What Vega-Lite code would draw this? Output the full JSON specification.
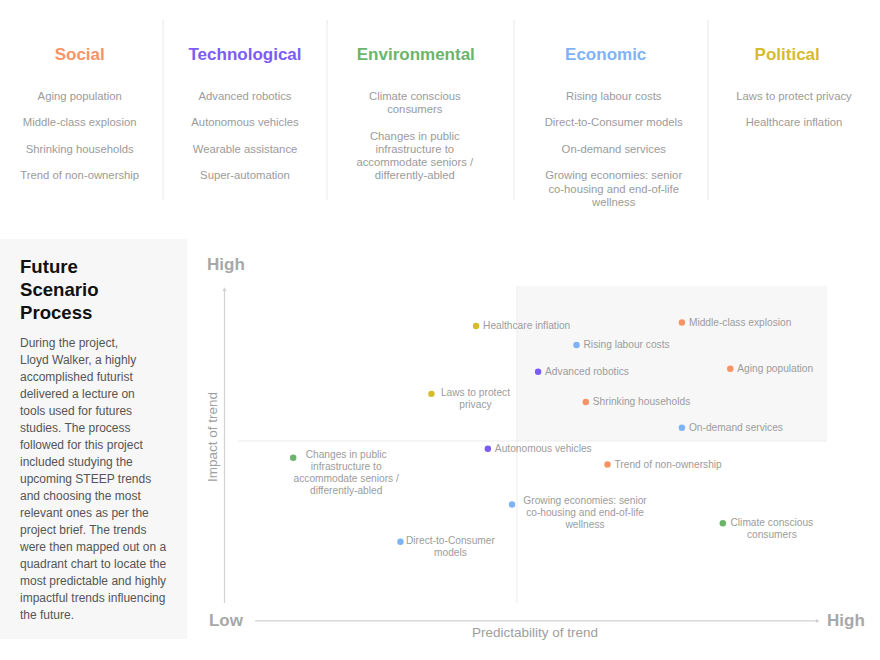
{
  "$schema": "https://vega.github.io/schema/vega-lite/v6.json",
  "padding": 0,
  "background": "white",
  "config": {
    "view": {"stroke": null},
    "axis": {"disable": true},
    "concat": {"spacing": 0},
    "font": "Liberation Sans"
  },
  "datasets": {
    "steep": [
      {"category": "Social", "item": "Aging population", "line": 0},
      {"category": "Social", "item": "Middle-class explosion", "line": 2},
      {"category": "Social", "item": "Shrinking households", "line": 4},
      {"category": "Social", "item": "Trend of non-ownership", "line": 6},
      {"category": "Technological", "item": "Advanced robotics", "line": 0},
      {"category": "Technological", "item": "Autonomous vehicles", "line": 2},
      {"category": "Technological", "item": "Wearable assistance", "line": 4},
      {"category": "Technological", "item": "Super-automation", "line": 6},
      {"category": "Environmental", "item": "Climate conscious\nconsumers", "line": 0},
      {"category": "Environmental", "item": "Changes in public\ninfrastructure to\naccommodate seniors /\ndifferently-abled", "line": 3},
      {"category": "Economic", "item": "Rising labour costs", "line": 0},
      {"category": "Economic", "item": "Direct-to-Consumer models", "line": 2},
      {"category": "Economic", "item": "On-demand services", "line": 4},
      {"category": "Economic", "item": "Growing economies: senior\nco-housing and end-of-life\nwellness", "line": 6},
      {"category": "Political", "item": "Laws to protect privacy", "line": 0},
      {"category": "Political", "item": "Healthcare inflation", "line": 2}
    ],
    "trends": [
      {"trend": "Healthcare inflation", "label": "Healthcare inflation", "category": "Political", "predictability": 4.34, "impact": 8.71},
      {"trend": "Middle-class explosion", "label": "Middle-class explosion", "category": "Social", "predictability": 7.66, "impact": 8.82},
      {"trend": "Rising labour costs", "label": "Rising labour costs", "category": "Economic", "predictability": 5.96, "impact": 8.10},
      {"trend": "Advanced robotics", "label": "Advanced robotics", "category": "Technological", "predictability": 5.34, "impact": 7.23},
      {"trend": "Aging population", "label": "Aging population", "category": "Social", "predictability": 8.44, "impact": 7.33},
      {"trend": "Laws to protect privacy", "label": "Laws to protect\nprivacy", "category": "Political", "predictability": 3.62, "impact": 6.52},
      {"trend": "Shrinking households", "label": "Shrinking households", "category": "Social", "predictability": 6.11, "impact": 6.26},
      {"trend": "On-demand services", "label": "On-demand services", "category": "Economic", "predictability": 7.66, "impact": 5.43},
      {"trend": "Autonomous vehicles", "label": "Autonomous vehicles", "category": "Technological", "predictability": 4.53, "impact": 4.75},
      {"trend": "Changes in public infrastructure to accommodate seniors / differently-abled", "label": "Changes in public\ninfrastructure to\naccommodate seniors /\ndifferently-abled", "category": "Environmental", "predictability": 1.39, "impact": 4.46},
      {"trend": "Trend of non-ownership", "label": "Trend of non-ownership", "category": "Social", "predictability": 6.46, "impact": 4.24},
      {"trend": "Growing economies: senior co-housing and end-of-life wellness", "label": "Growing economies: senior\nco-housing and end-of-life\nwellness", "category": "Economic", "predictability": 4.92, "impact": 2.95},
      {"trend": "Climate conscious consumers", "label": "Climate conscious\nconsumers", "category": "Environmental", "predictability": 8.32, "impact": 2.35},
      {"trend": "Direct-to-Consumer models", "label": "Direct-to-Consumer\nmodels", "category": "Economic", "predictability": 3.12, "impact": 1.75}
    ]
  },
  "vconcat": [
    {
      "bounds": "flush",
      "hconcat": [
        {
          "width": 163, "height": 239,
          "data": {"name": "steep"},
          "transform": [{"filter": "datum.category === 'Social'"}],
          "layer": [
            {"transform": [{"filter": "datum.line === 0"}],
             "mark": {"type": "text", "fontSize": 17, "fontWeight": "bold", "color": "#f79466", "baseline": "middle", "dx": -1.8},
             "encoding": {"x": {"field": "category", "type": "nominal", "axis": null}, "y": {"datum": -3.14, "type": "quantitative", "axis": null}, "text": {"field": "category"}}},
            {"mark": {"type": "text", "fontSize": 11.3, "color": "#9b9b9b", "baseline": "top", "dy": -5.5, "lineBreak": "\n", "lineHeight": 13.25, "dx": -1.8},
             "encoding": {"x": {"field": "category", "type": "nominal", "axis": null}, "y": {"field": "line", "type": "quantitative", "axis": null, "scale": {"domain": [-7.268, 10.77], "reverse": true, "nice": false, "zero": false}}, "text": {"field": "item"}}},
            {"transform": [{"filter": "datum.line === 0"}], "mark": {"type": "rule", "color": "#e8e8e8", "strokeWidth": 1},
             "encoding": {"x": {"value": "width"}, "y": {"datum": -5.76, "type": "quantitative", "axis": null}, "y2": {"datum": 7.83}}}
          ]
        },
        {
          "width": 164, "height": 239,
          "data": {"name": "steep"},
          "transform": [{"filter": "datum.category === 'Technological'"}],
          "layer": [
            {"transform": [{"filter": "datum.line === 0"}],
             "mark": {"type": "text", "fontSize": 17, "fontWeight": "bold", "color": "#7c5cf6", "baseline": "middle", "dx": 0},
             "encoding": {"x": {"field": "category", "type": "nominal", "axis": null}, "y": {"datum": -3.14, "type": "quantitative", "axis": null}, "text": {"field": "category"}}},
            {"mark": {"type": "text", "fontSize": 11.3, "color": "#9b9b9b", "baseline": "top", "dy": -5.5, "lineBreak": "\n", "lineHeight": 13.25, "dx": 0},
             "encoding": {"x": {"field": "category", "type": "nominal", "axis": null}, "y": {"field": "line", "type": "quantitative", "axis": null, "scale": {"domain": [-7.268, 10.77], "reverse": true, "nice": false, "zero": false}}, "text": {"field": "item"}}},
            {"transform": [{"filter": "datum.line === 0"}], "mark": {"type": "rule", "color": "#e8e8e8", "strokeWidth": 1},
             "encoding": {"x": {"value": "width"}, "y": {"datum": -5.76, "type": "quantitative", "axis": null}, "y2": {"datum": 7.83}}}
          ]
        },
        {
          "width": 187, "height": 239,
          "data": {"name": "steep"},
          "transform": [{"filter": "datum.category === 'Environmental'"}],
          "layer": [
            {"transform": [{"filter": "datum.line === 0"}],
             "mark": {"type": "text", "fontSize": 17, "fontWeight": "bold", "color": "#6bb56a", "baseline": "middle", "dx": -4.7},
             "encoding": {"x": {"field": "category", "type": "nominal", "axis": null}, "y": {"datum": -3.14, "type": "quantitative", "axis": null}, "text": {"field": "category"}}},
            {"mark": {"type": "text", "fontSize": 11.3, "color": "#9b9b9b", "baseline": "top", "dy": -5.5, "lineBreak": "\n", "lineHeight": 13.25, "dx": -5.7},
             "encoding": {"x": {"field": "category", "type": "nominal", "axis": null}, "y": {"field": "line", "type": "quantitative", "axis": null, "scale": {"domain": [-7.268, 10.77], "reverse": true, "nice": false, "zero": false}}, "text": {"field": "item"}}},
            {"transform": [{"filter": "datum.line === 0"}], "mark": {"type": "rule", "color": "#e8e8e8", "strokeWidth": 1},
             "encoding": {"x": {"value": "width"}, "y": {"datum": -5.76, "type": "quantitative", "axis": null}, "y2": {"datum": 7.83}}}
          ]
        },
        {
          "width": 194, "height": 239,
          "data": {"name": "steep"},
          "transform": [{"filter": "datum.category === 'Economic'"}],
          "layer": [
            {"transform": [{"filter": "datum.line === 0"}],
             "mark": {"type": "text", "fontSize": 17, "fontWeight": "bold", "color": "#7fb2f7", "baseline": "middle", "dx": -5.3},
             "encoding": {"x": {"field": "category", "type": "nominal", "axis": null}, "y": {"datum": -3.14, "type": "quantitative", "axis": null}, "text": {"field": "category"}}},
            {"mark": {"type": "text", "fontSize": 11.3, "color": "#9b9b9b", "baseline": "top", "dy": -5.5, "lineBreak": "\n", "lineHeight": 13.25, "dx": 2.7},
             "encoding": {"x": {"field": "category", "type": "nominal", "axis": null}, "y": {"field": "line", "type": "quantitative", "axis": null, "scale": {"domain": [-7.268, 10.77], "reverse": true, "nice": false, "zero": false}}, "text": {"field": "item"}}},
            {"transform": [{"filter": "datum.line === 0"}], "mark": {"type": "rule", "color": "#e8e8e8", "strokeWidth": 1},
             "encoding": {"x": {"value": "width"}, "y": {"datum": -5.76, "type": "quantitative", "axis": null}, "y2": {"datum": 7.83}}}
          ]
        },
        {
          "width": 172, "height": 239,
          "data": {"name": "steep"},
          "transform": [{"filter": "datum.category === 'Political'"}],
          "layer": [
            {"transform": [{"filter": "datum.line === 0"}],
             "mark": {"type": "text", "fontSize": 17, "fontWeight": "bold", "color": "#d6bb2e", "baseline": "middle", "dx": -6.8},
             "encoding": {"x": {"field": "category", "type": "nominal", "axis": null}, "y": {"datum": -3.14, "type": "quantitative", "axis": null}, "text": {"field": "category"}}},
            {"mark": {"type": "text", "fontSize": 11.3, "color": "#9b9b9b", "baseline": "top", "dy": -5.5, "lineBreak": "\n", "lineHeight": 13.25, "dx": 0},
             "encoding": {"x": {"field": "category", "type": "nominal", "axis": null}, "y": {"field": "line", "type": "quantitative", "axis": null, "scale": {"domain": [-7.268, 10.77], "reverse": true, "nice": false, "zero": false}}, "text": {"field": "item"}}}
          ]
        }
      ]
    },
    {
      "bounds": "flush",
      "hconcat": [
        {
          "width": 187, "height": 400,
          "view": {"fill": "#f7f7f7", "stroke": null},
          "data": {"values": [
            {"block": "title", "text": "Future\nScenario\nProcess"},
            {"block": "body", "text": "During the project,\nLloyd Walker, a highly\naccomplished futurist\ndelivered a lecture on\ntools used for futures\nstudies. The process\nfollowed for this project\nincluded studying the\nupcoming STEEP trends\nand choosing the most\nrelevant ones as per the\nproject brief. The trends\nwere then mapped out on a\nquadrant chart to locate the\nmost predictable and highly\nimpactful trends influencing\nthe future."}
          ]},
          "layer": [
            {"transform": [{"filter": "datum.block === 'title'"}],
             "mark": {"type": "text", "fontSize": 18.6, "fontWeight": "bold", "color": "#111111", "align": "left", "baseline": "middle", "lineBreak": "\n", "lineHeight": 22.7},
             "encoding": {"x": {"value": 20}, "y": {"value": 28.3}, "text": {"field": "text"}}},
            {"transform": [{"filter": "datum.block === 'body'"}],
             "mark": {"type": "text", "fontSize": 12, "color": "#555555", "align": "left", "baseline": "middle", "lineBreak": "\n", "lineHeight": 17},
             "encoding": {"x": {"value": 20}, "y": {"value": 104.3}, "text": {"field": "text"}}}
          ]
        },
        {
          "width": 693, "height": 421,
          "layer": [
            {"data": {"values": [{}]}, "mark": {"type": "rect", "fill": "#f7f7f7"},
             "encoding": {
               "x": {"datum": 5, "type": "quantitative", "axis": null, "scale": {"domain": [-0.3226, 10.855], "nice": false, "zero": false}},
               "x2": {"datum": 10},
               "y": {"datum": 5, "type": "quantitative", "axis": null, "scale": {"domain": [-2.065, 11.516], "nice": false, "zero": false}},
               "y2": {"datum": 10}}},
            {"data": {"values": [{}]}, "mark": {"type": "rule", "color": "#ececec", "strokeWidth": 1},
             "encoding": {"x": {"datum": 0.5, "type": "quantitative", "axis": null}, "x2": {"datum": 10}, "y": {"datum": 5, "type": "quantitative", "axis": null}}},
            {"data": {"values": [{}]}, "mark": {"type": "rule", "color": "#ececec", "strokeWidth": 1},
             "encoding": {"x": {"datum": 5, "type": "quantitative", "axis": null}, "y": {"datum": -0.226, "type": "quantitative", "axis": null}, "y2": {"datum": 10}}},
            {"data": {"values": [{}]}, "mark": {"type": "rule", "color": "#d2d2d2", "strokeWidth": 1.2},
             "encoding": {"x": {"datum": 0.282, "type": "quantitative", "axis": null}, "y": {"datum": -0.226, "type": "quantitative", "axis": null}, "y2": {"datum": 9.9}}},
            {"data": {"values": [{}]}, "mark": {"type": "point", "shape": "triangle-up", "filled": true, "color": "#d2d2d2", "size": 18, "opacity": 1},
             "encoding": {"x": {"datum": 0.282, "type": "quantitative", "axis": null}, "y": {"datum": 9.9, "type": "quantitative", "axis": null}}},
            {"data": {"values": [{}]}, "mark": {"type": "rule", "color": "#d2d2d2", "strokeWidth": 1.2},
             "encoding": {"x": {"datum": 0.774, "type": "quantitative", "axis": null}, "x2": {"datum": 9.85}, "y": {"datum": -0.806, "type": "quantitative", "axis": null}}},
            {"data": {"values": [{}]}, "mark": {"type": "point", "shape": "triangle-right", "filled": true, "color": "#d2d2d2", "size": 18, "opacity": 1},
             "encoding": {"x": {"datum": 9.85, "type": "quantitative", "axis": null}, "y": {"datum": -0.806, "type": "quantitative", "axis": null}}},
            {"data": {"values": [{"t": "High", "px": 0.306, "py": 10.677}, {"t": "Low", "px": 0.306, "py": -0.806}, {"t": "High", "px": 10.306, "py": -0.806}]},
             "mark": {"type": "text", "fontSize": 17, "fontWeight": "bold", "color": "#a8a8a8", "align": "center", "baseline": "middle"},
             "encoding": {"x": {"field": "px", "type": "quantitative", "axis": null}, "y": {"field": "py", "type": "quantitative", "axis": null}, "text": {"field": "t"}}},
            {"data": {"values": [{}]}, "mark": {"type": "text", "fontSize": 13.5, "color": "#9e9e9e", "align": "center", "baseline": "middle", "text": "Predictability of trend"},
             "encoding": {"x": {"datum": 5.29, "type": "quantitative", "axis": null}, "y": {"datum": -1.194, "type": "quantitative", "axis": null}}},
            {"data": {"values": [{}]}, "mark": {"type": "text", "fontSize": 13.5, "color": "#9e9e9e", "align": "center", "baseline": "middle", "angle": 270, "text": "Impact of trend"},
             "encoding": {"x": {"datum": 0.097, "type": "quantitative", "axis": null}, "y": {"datum": 5.13, "type": "quantitative", "axis": null}}},
            {"data": {"name": "trends"},
             "mark": {"type": "circle", "size": 42, "opacity": 1},
             "encoding": {
               "x": {"field": "predictability", "type": "quantitative", "axis": null},
               "y": {"field": "impact", "type": "quantitative", "axis": null},
               "color": {"field": "category", "type": "nominal", "legend": null,
                 "scale": {"domain": ["Social", "Technological", "Environmental", "Economic", "Political"], "range": ["#f79466", "#7c5cf6", "#6bb56a", "#7fb2f7", "#d6bb2e"]}}}},
            {"data": {"name": "trends"},
             "transform": [{"filter": "indexof(datum.label, '\\n') < 0"}],
             "mark": {"type": "text", "fontSize": 10.2, "color": "#9c9c9c", "align": "left", "baseline": "middle", "dx": 7},
             "encoding": {"x": {"field": "predictability", "type": "quantitative", "axis": null}, "y": {"field": "impact", "type": "quantitative", "axis": null}, "text": {"field": "label"}}},
            {"data": {"name": "trends"},
             "transform": [{"filter": "datum.trend === 'Laws to protect privacy'"}],
             "mark": {"type": "text", "fontSize": 10.2, "color": "#9c9c9c", "align": "center", "baseline": "top", "lineBreak": "\n", "lineHeight": 12, "dx": 44, "dy": -5.4},
             "encoding": {"x": {"field": "predictability", "type": "quantitative", "axis": null}, "y": {"field": "impact", "type": "quantitative", "axis": null}, "text": {"field": "label"}}},
            {"data": {"name": "trends"},
             "transform": [{"filter": "datum.category === 'Environmental' && datum.predictability < 5"}],
             "mark": {"type": "text", "fontSize": 10.2, "color": "#9c9c9c", "align": "center", "baseline": "top", "lineBreak": "\n", "lineHeight": 12, "dx": 53, "dy": -7.4},
             "encoding": {"x": {"field": "predictability", "type": "quantitative", "axis": null}, "y": {"field": "impact", "type": "quantitative", "axis": null}, "text": {"field": "label"}}},
            {"data": {"name": "trends"},
             "transform": [{"filter": "datum.trend === 'Direct-to-Consumer models'"}],
             "mark": {"type": "text", "fontSize": 10.2, "color": "#9c9c9c", "align": "center", "baseline": "top", "lineBreak": "\n", "lineHeight": 12, "dx": 50, "dy": -5.4},
             "encoding": {"x": {"field": "predictability", "type": "quantitative", "axis": null}, "y": {"field": "impact", "type": "quantitative", "axis": null}, "text": {"field": "label"}}},
            {"data": {"name": "trends"},
             "transform": [{"filter": "indexof(datum.trend, 'Growing economies') === 0"}],
             "mark": {"type": "text", "fontSize": 10.2, "color": "#9c9c9c", "align": "center", "baseline": "top", "lineBreak": "\n", "lineHeight": 12, "dx": 73, "dy": -8.1},
             "encoding": {"x": {"field": "predictability", "type": "quantitative", "axis": null}, "y": {"field": "impact", "type": "quantitative", "axis": null}, "text": {"field": "label"}}},
            {"data": {"name": "trends"},
             "transform": [{"filter": "datum.trend === 'Climate conscious consumers'"}],
             "mark": {"type": "text", "fontSize": 10.2, "color": "#9c9c9c", "align": "center", "baseline": "top", "lineBreak": "\n", "lineHeight": 12, "dx": 49, "dy": -5.4},
             "encoding": {"x": {"field": "predictability", "type": "quantitative", "axis": null}, "y": {"field": "impact", "type": "quantitative", "axis": null}, "text": {"field": "label"}}}
          ]
        }
      ]
    }
  ]
}
